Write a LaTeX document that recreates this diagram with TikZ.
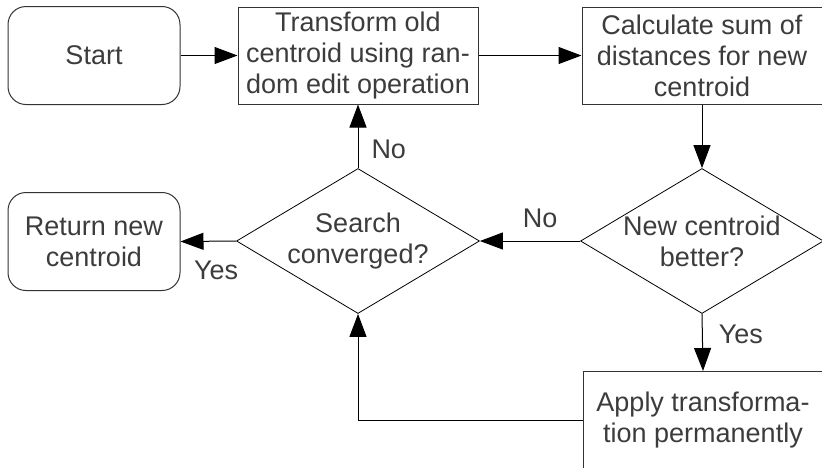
\documentclass[tikz,border=0pt]{standalone}
\usepackage{fontspec}
\setmainfont{Liberation Sans}
\usetikzlibrary{shapes.geometric,arrows.meta}
\definecolor{txtgray}{HTML}{3C3C3C}

\begin{document}
\begin{tikzpicture}[x=1pt,y=-1pt,
    every node/.style={font=\fontsize{27}{31}\selectfont,text=txtgray,align=center},
    terminal/.style={draw=black!80,line width=1pt,rounded corners=18pt,minimum width=172pt,minimum height=98pt,inner sep=0pt},
    process/.style={draw=black!80,line width=1pt,minimum width=240pt,minimum height=97pt,inner sep=0pt},
    decision/.style={draw,line width=0.8pt,shape=diamond,aspect=1.67,minimum width=243pt,minimum height=145pt,inner sep=-12pt},
    flow/.style={-{Triangle[length=23pt,width=17pt]},line width=1pt},
    answer/.style={inner sep=0pt}]
  \useasboundingbox (0,0) rectangle (822,467) ;
  % top row
  \node[terminal] (start) at (94,55.5) {Start} ;
  \node[process] (transform) at (358,55.5) {Transform old\\centroid using ran-\\dom edit operation} ;
  \node[process] (calc) at (702,55.5) {Calculate sum of\\distances for new\\centroid} ;
  % middle row
  \node[decision] (better) at (702,241) {New centroid\\better?} ;
  \node[decision] (search) at (358,241) {Search\\converged?} ;
  \node[terminal] (return) at (94,241.5) {Return new\\centroid} ;
  % bottom
  \node[process] (apply) at (703,420) {Apply transforma-\\tion permanently} ;
  % connectors
  \draw[flow] (start) -- (transform) ;
  \draw[flow] (transform) -- (calc) ;
  \draw[flow] (calc) -- (better) ;
  \draw[flow] (better.west) -- node[answer,pos=0.4,above=13pt]{No} (search.east) ;
  \draw[flow] (search.north) -- node[answer,pos=0.3,right=13pt]{No} (transform.south) ;
  \draw[flow] (search.west) -- node[answer,pos=0.36,below=19pt]{Yes} (return.east) ;
  \draw[flow] (better.south) -- node[answer,pos=0.35,right=16pt]{Yes} (apply.north) ;
  \draw[flow] (apply.west) -| (search.south) ;
\end{tikzpicture}
\end{document}
